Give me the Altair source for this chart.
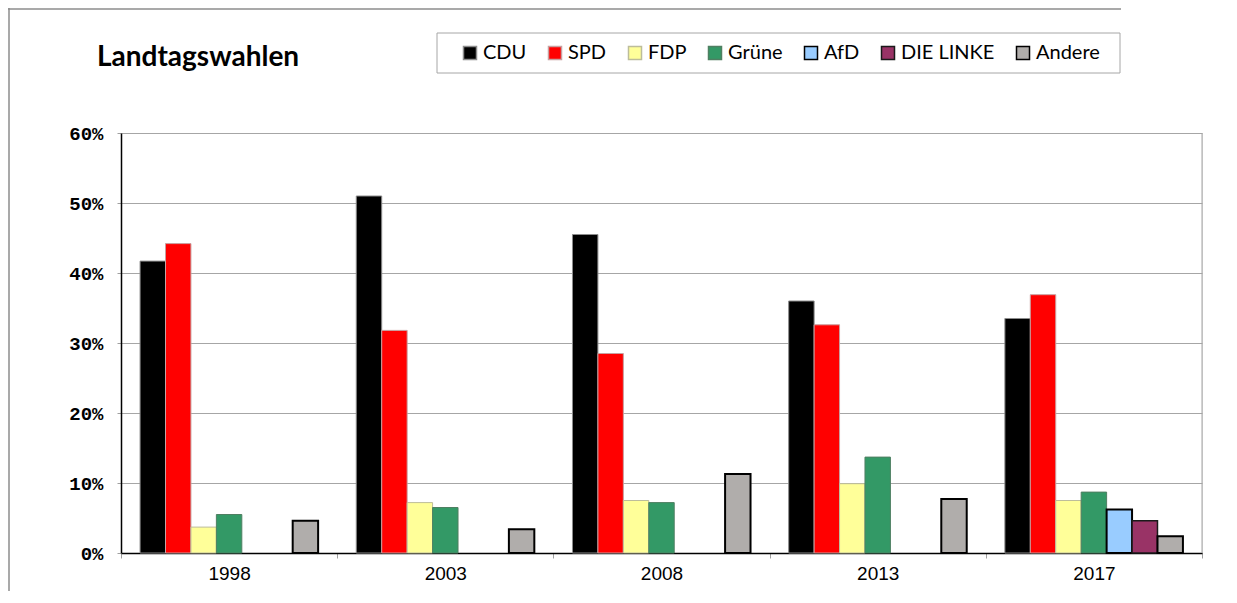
import altair as alt
import pandas as pd

title_text = "Landtagswahlen"
years = ["1998", "2003", "2008", "2013", "2017"]
parties = ["CDU", "SPD", "FDP", "Grüne", "AfD", "DIE LINKE", "Andere"]

cdu = [41.7, 51.0, 45.5, 36.0, 33.5]
spd = [44.2, 31.8, 28.5, 32.6, 36.9]
fdp = [3.7, 7.2, 7.5, 9.9, 7.5]
gruene = [5.5, 6.5, 7.2, 13.7, 8.7]
afd = [None, None, None, None, 6.2]
linke = [None, None, None, None, 4.6]
andere = [4.6, 3.4, 11.3, 7.7, 2.4]

y_ticks = [0, 10, 20, 30, 40, 50, 60]

fill_colors = ["#000000", "#FF0000", "#FFFF99", "#339966", "#99CCFF", "#993366", "#B0ADAB"]
stroke_colors = ["#8C8C8C", "#C8A0A0", "#BDBD9A", "#4F7F62", "#000000", "#1A1A1A", "#000000"]
stroke_widths = {"CDU": 1, "SPD": 1, "FDP": 1, "Grüne": 1, "AfD": 2, "DIE LINKE": 1.5, "Andere": 2}

series = {"CDU": cdu, "SPD": spd, "FDP": fdp, "Grüne": gruene,
          "AfD": afd, "DIE LINKE": linke, "Andere": andere}
rows = []
for p in parties:
    for y, v in zip(years, series[p]):
        if v is not None:
            rows.append({"year": y, "party": p, "value": v, "sw": stroke_widths[p]})
df = pd.DataFrame(rows)

W, H = 1081, 420
one = pd.DataFrame({"a": [0]})

legend_opts = dict(title=None, orient="none", legendX=339, legendY=-90,
                   direction="horizontal", symbolType="square",
                   symbolSize=169, symbolStrokeWidth=1.5,
                   labelFont="Lato", labelFontSize=20, labelColor="#000000",
                   labelOffset=3, columnPadding=18, padding=0)

bars = alt.Chart(df).mark_bar().encode(
    x=alt.X("year:N", sort=years,
            scale=alt.Scale(paddingInner=0, paddingOuter=0),
            axis=alt.Axis(title=None, labelAngle=0, tickBand="extent",
                          domainColor="#000000", domainWidth=1.5,
                          tickColor="#A0A0A0", tickSize=5,
                          labelFont="Liberation Sans", labelFontSize=19,
                          labelColor="#000000", labelPadding=6, grid=False)),
    xOffset=alt.XOffset("party:N", sort=parties,
                        scale=alt.Scale(domain=parties, paddingInner=0, paddingOuter=0.75)),
    y=alt.Y("value:Q",
            scale=alt.Scale(domain=[0, 60], nice=False),
            axis=alt.Axis(title=None, values=y_ticks, labelExpr="datum.value + '%'",
                          domainColor="#000000", domainWidth=1.5,
                          tickColor="#A0A0A0", tickSize=4,
                          gridColor="#A6A6A6", gridWidth=1,
                          labelFont="Liberation Mono", labelFontWeight="bold",
                          labelFontSize=19, labelColor="#000000", labelPadding=14)),
    color=alt.Color("party:N", sort=parties,
                    scale=alt.Scale(domain=parties, range=fill_colors),
                    legend=alt.Legend(**legend_opts)),
    stroke=alt.Stroke("party:N", sort=parties,
                      scale=alt.Scale(domain=parties, range=stroke_colors),
                      legend=alt.Legend(**legend_opts)),
    strokeWidth=alt.StrokeWidth("sw:Q", scale=None, legend=None),
)

legend_box = alt.Chart(one).mark_rect(fill="white", stroke="#A6A6A6", strokeWidth=1).encode(
    x=alt.value(316), x2=alt.value(999), y=alt.value(-100), y2=alt.value(-60))

right_border = alt.Chart(one).mark_rule(color="#A6A6A6", strokeWidth=1).encode(
    x=alt.value(W), x2=alt.value(W), y=alt.value(0), y2=alt.value(H))

frame_top = alt.Chart(one).mark_rule(color="#8C8C8C", strokeWidth=1.5).encode(
    x=alt.value(-113), x2=alt.value(1000), y=alt.value(-124), y2=alt.value(-124))
frame_left = alt.Chart(one).mark_rule(color="#8C8C8C", strokeWidth=1.5).encode(
    x=alt.value(-112), x2=alt.value(-112), y=alt.value(-125), y2=alt.value(470))

title = alt.Chart(pd.DataFrame({"t": [title_text]})).mark_text(
    font="Lato", fontSize=28, fontWeight="bold", color="#000000",
    align="left", baseline="middle").encode(
    text="t:N", x=alt.value(-24), y=alt.value(-75))

chart = alt.layer(frame_top, frame_left, legend_box, bars, right_border, title).properties(
    width=W, height=H,
    autosize="none",
    padding={"left": 113, "top": 125, "right": 27, "bottom": 38},
).configure_view(stroke=None).configure(background="white")

chart.save("out.html", embed_options={"renderer": "svg", "actions": False})
